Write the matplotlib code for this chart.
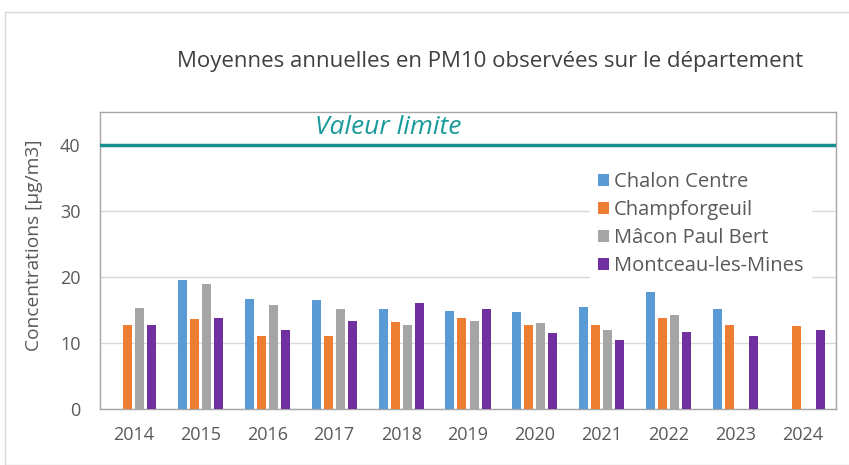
import numpy as np
import matplotlib
matplotlib.use("Agg")
import matplotlib.pyplot as plt
import matplotlib.patches as patches

years = ["2014", "2015", "2016", "2017", "2018", "2019", "2020", "2021", "2022", "2023", "2024"]
stations = ["Chalon Centre", "Champforgeuil", "Mâcon Paul Bert", "Montceau-les-Mines"]
chalon = [np.nan, 19.5, 16.7, 16.5, 15.2, 14.8, 14.7, 15.4, 17.7, 15.2, np.nan]
champforgeuil = [12.8, 13.7, 11.0, 11.1, 13.2, 13.8, 12.7, 12.8, 13.8, 12.8, 12.6]
macon = [15.3, 19.0, 15.7, 15.2, 12.8, 13.3, 13.1, 11.9, 14.3, np.nan, np.nan]
montceau = [12.8, 13.8, 11.9, 13.3, 16.0, 15.2, 11.5, 10.4, 11.6, 11.1, 11.9]
valeur_limite = 40

colors = ['#5b9bd5', '#ed7d31', '#a5a5a5', '#7030a0']
txtcol = '#595959'

plt.rcParams['font.family'] = ['Open Sans', 'DejaVu Sans']

fig = plt.figure(figsize=(8.49, 4.65), dpi=100)
# outer chart frame
fig.patches.append(patches.Rectangle((5/849, 0.0), 1.0, 1 - 12/465, transform=fig.transFigure,
                                     fill=False, edgecolor='#d9d9d9', linewidth=1))
ax = fig.add_axes([100/849, 1 - 409/465, (836-100)/849, (409-112)/465])

x = np.arange(len(years))
w = 0.135
pitch = 0.18
series = [chalon, champforgeuil, macon, montceau]
for i, (name, vals) in enumerate(zip(stations, series)):
    ax.bar(x + (i - 1.5) * pitch, vals, w, color=colors[i], label=name, zorder=3)

ax.axhline(valeur_limite, color='#178f8f', linewidth=2.5, zorder=4)
ax.text(3.8, valeur_limite + 0.8, "Valeur limite", color='#1a9a9a', fontsize=19,
        style='italic', ha='center', va='bottom')

ax.set_ylim(0, 45)
ax.set_xlim(-0.5, len(years) - 0.5)
ax.set_yticks([0, 10, 20, 30, 40])
ax.set_xticks(x)
ax.set_xticklabels(years)
ax.yaxis.grid(True, color='#d9d9d9', linewidth=1, zorder=0)
ax.tick_params(length=0, labelsize=13, colors=txtcol)
ax.tick_params(axis='y', pad=14)
ax.tick_params(axis='x', pad=12)
for s in ax.spines.values():
    s.set_color('#a6a6a6')
    s.set_linewidth(1)
ax.set_ylabel("Concentrations [µg/m3]", fontsize=13.8, color=txtcol)
ax.yaxis.set_label_coords(-0.0775, 0.552)

leg = ax.legend(loc='upper right', bbox_to_anchor=(0.975, 0.845), frameon=True, fontsize=14.5,
                handlelength=0.55, handleheight=0.55, handletextpad=0.25, labelspacing=0.4,
                borderaxespad=0.3, fancybox=False)
leg.get_frame().set_edgecolor('none')
leg.get_frame().set_facecolor('white')
leg.get_frame().set_alpha(1)
for t in leg.get_texts():
    t.set_color(txtcol)

fig.text(490/849, 1 - 62/465, "Moyennes annuelles en PM10 observées sur le département",
         fontsize=16, color='#404040', ha='center', va='center')

fig.savefig("out.png", dpi=100)
